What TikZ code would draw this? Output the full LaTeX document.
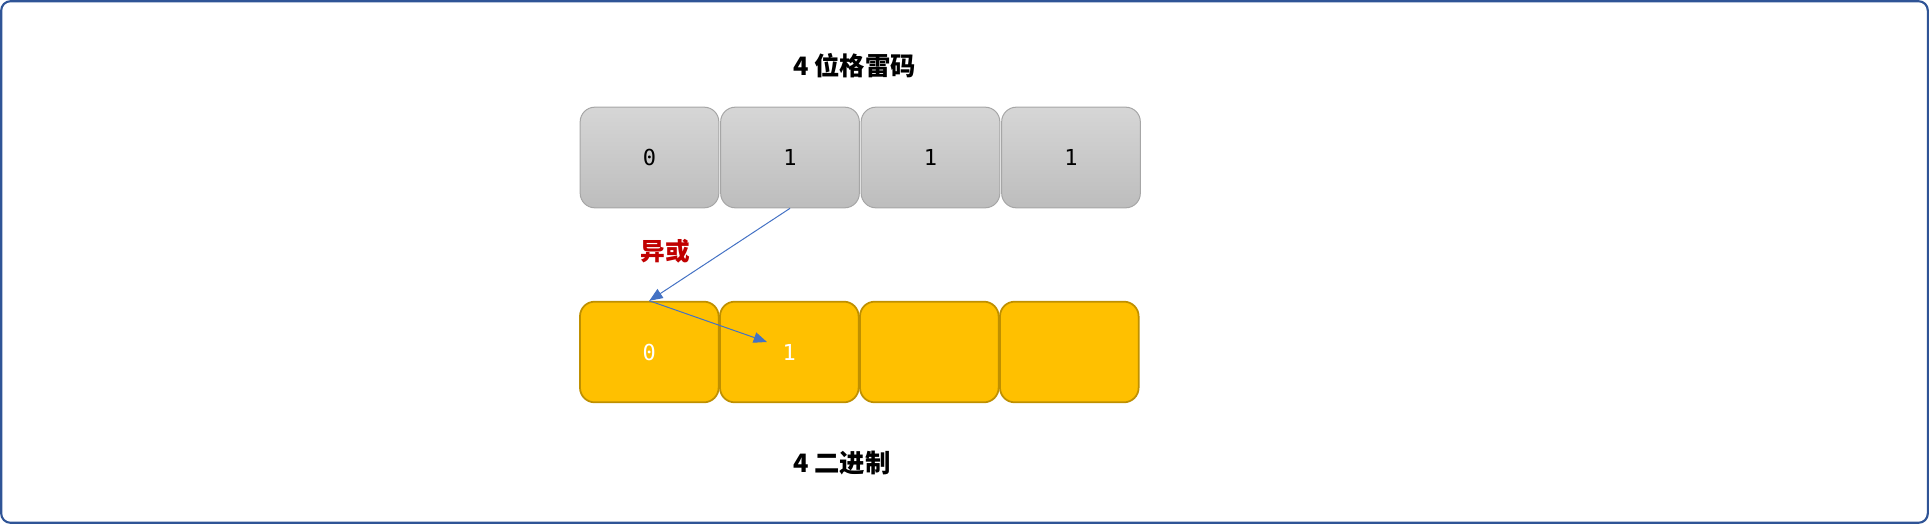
\documentclass[tikz,border=0pt]{standalone}
\usepackage{fontspec}
\setmainfont{Liberation Sans}
\newfontfamily\cjk{Noto Sans CJK SC}
\newfontfamily\monof{DejaVu Sans Mono}
\usetikzlibrary{arrows.meta}
\definecolor{framecol}{HTML}{2F5496}
\definecolor{grayedge}{HTML}{A6A6A6}
\definecolor{graytop}{HTML}{D6D6D6}
\definecolor{graybot}{HTML}{BDBDBD}
\definecolor{goldfill}{HTML}{FFC000}
\definecolor{goldedge}{HTML}{BF9000}
\definecolor{arrowcol}{HTML}{4472C4}
\definecolor{xorred}{HTML}{C00000}
\begin{document}
\begin{tikzpicture}[x=0.75pt,y=-0.75pt,
  graybox/.style={draw=grayedge, line width=0.75pt, top color=graytop, bottom color=graybot,
    rounded corners=11pt, minimum width=104pt, minimum height=75.5pt, inner sep=0pt,
    font=\monof\fontsize{16.5}{16.5}\selectfont, text=black},
  goldbox/.style={draw=goldedge, line width=1.3pt, fill=goldfill,
    rounded corners=11pt, minimum width=104pt, minimum height=75.5pt, inner sep=0pt,
    font=\monof\fontsize{16.5}{16.5}\selectfont, text=white},
  titletext/.style={font=\cjk\bfseries\fontsize{19}{19}\selectfont, anchor=west, inner sep=0pt},
  conn/.style={draw=arrowcol, line width=0.75pt, -{Triangle[length=10pt,width=8pt]}}]
\useasboundingbox (0,0) rectangle (1929,524);
\draw[framecol, line width=1.6pt, rounded corners=7pt] (1.2,1.2) rectangle (1927.8,522.8);

\node[titletext] (gtitle) at (793,66) {4 位格雷码};
\node[titletext] (btitle) at (793,463) {4 二进制};

\node[graybox] (g1) at (649.5,157.5) {0};
\node[graybox] (g2) at (790,157.5) {1};
\node[graybox] (g3) at (930.5,157.5) {1};
\node[graybox] (g4) at (1071,157.5) {1};

\node[goldbox] (b1) at (649.3,352) {0};
\node[goldbox] (b2) at (789.3,352) {1};
\node[goldbox] (b3) at (929.3,352) {};
\node[goldbox] (b4) at (1069.3,352) {};

\node[font=\cjk\bfseries\fontsize{18.5}{18.5}\selectfont, text=xorred, inner sep=0pt] (xor) at (665,251) {异或};

\coordinate (tip2) at (767,342);
\draw[conn] (g2.south) -- (b1.north);
\draw[conn] (b1.north) -- (tip2);
\end{tikzpicture}
\end{document}
